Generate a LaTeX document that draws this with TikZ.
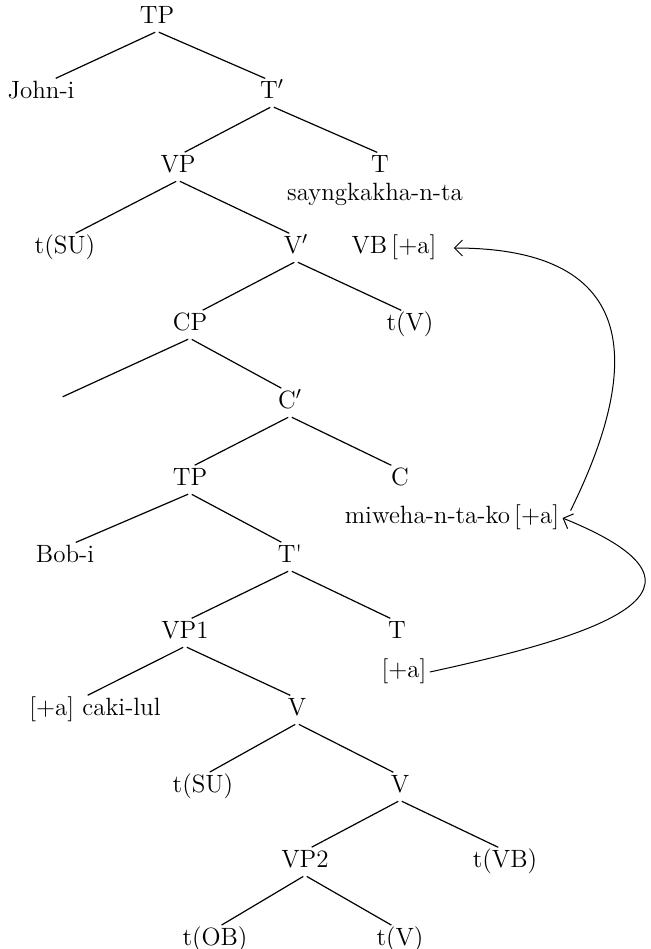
\documentclass[tikz,border=0pt]{standalone}
\usepackage{fontspec}
\usetikzlibrary{arrows.meta}
\begin{document}
\begin{tikzpicture}[x=0.5pt,y=-0.5pt,
  every node/.style={font=\fontsize{12.5}{15}\selectfont, inner sep=1.5pt,
    text height=0.75em, text depth=0.25em},
  branch/.style={line width=0.6pt, shorten <=1pt, shorten >=1.5pt},
  mv/.style={-{Straight Barb[length=4pt,width=8pt]}, line width=0.5pt}]
\useasboundingbox (0,0) rectangle (650,949);

% matrix clause
\node (tp) at (157,18) {TP};
\node (john) at (41,93) {John-i};
\node (tb1) at (272,93) {T$'$};
\node (vp) at (178,167) {VP};
\node (t1) at (380,167) {T};
\node (sayng) at (375,195) {sayngkakha-n-ta};
\node (tsu1) at (65,248) {t(SU)};
\node (vb1) at (296,248) {V$'$};
\node (vb) at (394,248) {VB\,[+a]};
\node (cp) at (190,325) {CP};
\node (tv1) at (410,325) {t(V)};
\coordinate (spec) at (60,398);
\node (cb) at (290,403) {C$'$};
\node (tp2) at (190,480) {TP};
\node (c) at (400,480) {C};
\node (miw) at (452,518) {miweha-n-ta-ko\,[+a]};

% embedded clause
\node (bob) at (65,557) {Bob-i};
\node (tb2) at (290,557) {T\textquotesingle};
\node (vp1) at (185,633) {VP1};
\node (t2) at (397,633) {T};
\node (pa) at (404,672) {[+a]};
\node (caki) at (95,710) {[+a] caki-lul};
\node (v1) at (297,710) {V};
\node (tsu2) at (203,787) {t(SU)};
\node (v2) at (400,787) {V};
\node (vp2) at (305,862) {VP2};
\node (tvb) at (505,862) {t(VB)};
\node (tob) at (215,940) {t(OB)};
\node (tv2) at (400,940) {t(V)};

% branches: each mother to its two daughters
\draw[branch] (tp.south) -- ([xshift=6pt]john.north);
\draw[branch] (tp.south) -- ([xshift=-2pt]tb1.north);
\draw[branch] (tb1.south) -- ([xshift=2pt]vp.north);
\draw[branch] (tb1.south) -- (t1.north);
\draw[branch] (vp.south) -- ([xshift=4pt]tsu1.north);
\draw[branch] (vp.south) -- ([xshift=-2pt]vb1.north);
\draw[branch] (vb1.south) -- ([xshift=5pt]cp.north);
\draw[branch] (vb1.south) -- ([xshift=-3pt]tv1.north);
\draw[branch] (cp.south) -- (spec);
\draw[branch] (cp.south) -- ([xshift=-3pt]cb.north);
\draw[branch] (cb.south) -- ([xshift=1pt]tp2.north);
\draw[branch] (cb.south) -- ([xshift=-3pt]c.north);
\draw[branch] (tp2.south) -- ([xshift=4pt]bob.north);
\draw[branch] (tp2.south) -- ([xshift=-3pt]tb2.north);
\draw[branch] (tb2.south) -- ([xshift=2pt]vp1.north);
\draw[branch] (tb2.south) -- ([xshift=-2pt]t2.north);
\draw[branch] (vp1.south) -- ([xshift=-5pt]caki.north);
\draw[branch] (vp1.south) -- ([xshift=-2pt]v1.north);
\draw[branch] (v1.south) -- ([xshift=2pt]tsu2.north);
\draw[branch] (v1.south) -- ([xshift=-2pt]v2.north);
\draw[branch] (v2.south) -- ([xshift=2pt]vp2.north);
\draw[branch] (v2.south) -- ([xshift=-2pt]tvb.north);
\draw[branch] (vp2.south) -- ([xshift=2pt]tob.north);
\draw[branch] (vp2.south) -- ([xshift=-3pt]tv2.north);

% feature movement
\draw[mv] (pa.east) .. controls (600,635) and (740,590) .. (miw.east);
\draw[mv] ([xshift=4pt,yshift=-3pt]miw.north east) .. controls (640,370) and (645,248) .. ([xshift=7pt]vb.east);
\end{tikzpicture}
\end{document}
